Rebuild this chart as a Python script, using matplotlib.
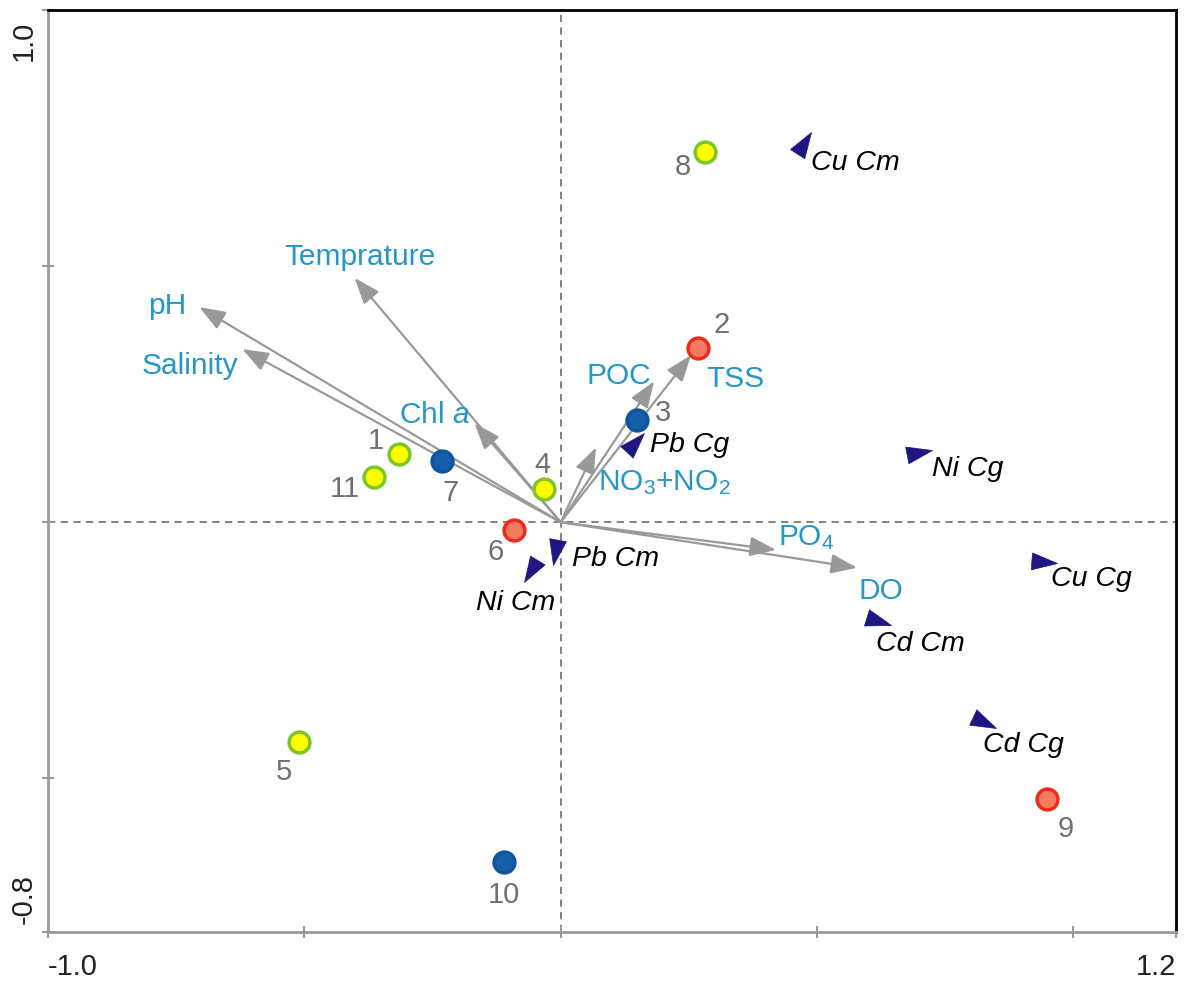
import numpy as np
import matplotlib
matplotlib.use("Agg")
import matplotlib.pyplot as plt
from matplotlib.markers import MarkerStyle
from matplotlib.path import Path
from matplotlib.transforms import Affine2D, ScaledTranslation

plt.rcParams['font.family'] = ['Liberation Sans', 'DejaVu Sans']
plt.rcParams['mathtext.fontset'] = 'custom'
plt.rcParams['mathtext.rm'] = 'Liberation Sans'
plt.rcParams['mathtext.it'] = 'Liberation Sans:italic'

# sampling sites (scores)
site_ids = ['1', '11', '7', '4', '6', '3', '2', '8', '5', '10', '9']
site_x = [-0.315, -0.365, -0.231, -0.032, -0.091, 0.149, 0.268, 0.282, -0.510, -0.110, 0.948]
site_y = [0.134, 0.089, 0.120, 0.065, -0.015, 0.200, 0.341, 0.723, -0.429, -0.663, -0.540]
site_group = ['y', 'y', 'b', 'y', 'r', 'b', 'r', 'y', 'y', 'b', 'r']

# environmental variables (arrow tips)
env_names = ['Temprature', 'pH', 'Salinity', 'Chl $a$', 'POC', 'TSS',
             'NO$_{\\mathrm{3}}$+NO$_{\\mathrm{2}}$', 'PO$_{\\mathrm{4}}$', 'DO']
env_x = [-0.402, -0.705, -0.621, -0.168, 0.182, 0.254, 0.069, 0.420, 0.578]
env_y = [0.477, 0.420, 0.338, 0.193, 0.275, 0.326, 0.146, -0.054, -0.089]

# metal species (arrow heads only)
sp_names = ['Cu Cm', 'Ni Cg', 'Cu Cg', 'Cd Cm', 'Cd Cg', 'Pb Cg', 'Pb Cm', 'Ni Cm']
sp_x = [0.488, 0.724, 0.968, 0.644, 0.849, 0.163, -0.015, -0.071]
sp_y = [0.761, 0.141, -0.079, -0.200, -0.402, 0.175, -0.083, -0.117]

# label offsets (points)
site_off = [(-17, 9), (-21, -9), (6, -23), (-1, 17), (-13, -16), (19, 5),
            (17, 16), (-16, -11), (-11, -22), (0, -24), (14, -22)]
env_off = [(4, 15), (-23, 1), (-38, -12), (-29, 6), (-25, 4), (32, -17),
           (49, -25), (22, 9), (17, -17)]
sp_off = [(0, -22), (0, -14), (-4, -12), (-11, -14), (-9, -12), (4, -9), (14, 4), (-6, -15)]
sp_ha = ['left'] * 7 + ['center']

face = {'y': '#ffff00', 'b': '#1560a8', 'r': '#f47a60'}
edge = {'y': '#7cc528', 'b': '#0f55a0', 'r': '#ee2a1a'}
env_col = '#2596c8'
arrow_col = '#999999'

fig = plt.figure(figsize=(11.84, 9.81), dpi=100)
ax = fig.add_axes([0.0405, 0.050, 0.9527, 0.9398])
ax.set_xlim(-1.0, 1.2)
ax.set_ylim(-0.8, 1.0)

ax.axhline(0, color='#777777', lw=1.3, ls=(0, (4, 3)), zorder=1)
ax.axvline(0, color='#777777', lw=1.3, ls=(0, (4, 3)), zorder=1)

# environmental arrows
for name, x, y, off in zip(env_names, env_x, env_y, env_off):
    ax.annotate('', xy=(x, y), xytext=(0, 0),
                arrowprops=dict(arrowstyle='-|>,head_length=0.8,head_width=0.3',
                                color=arrow_col, lw=1.6, mutation_scale=20,
                                shrinkA=0, shrinkB=0), zorder=2)
    ax.annotate(name, xy=(x, y), xytext=off, textcoords='offset points',
                ha='center', va='center', color=env_col, fontsize=21.5, zorder=5)

# species arrow heads
head = Path([(0, 0), (-1.0, 0.33), (-1.0, -0.33), (0, 0)],
            [Path.MOVETO, Path.LINETO, Path.LINETO, Path.CLOSEPOLY])
for name, x, y, off, ha in zip(sp_names, sp_x, sp_y, sp_off, sp_ha):
    ang = np.degrees(np.arctan2(y, x))
    m = MarkerStyle(head, transform=Affine2D().rotate_deg(ang))
    ax.plot(x, y, marker=m, ms=37, color='#1e1682', mec='#1e1682', mew=0.5,
            ls='none', zorder=4)
    ax.annotate(name, xy=(x, y), xytext=off, textcoords='offset points',
                ha=ha, va='center', style='italic', color='black', fontsize=20.5, zorder=5)

# sites
for sid, x, y, g, off in zip(site_ids, site_x, site_y, site_group, site_off):
    ax.plot(x, y, 'o', ms=15, mfc=face[g], mec=edge[g], mew=2.5, zorder=6)
    ax.annotate(sid, xy=(x, y), xytext=off, textcoords='offset points',
                ha='center', va='center', color='#707070', fontsize=21, zorder=5)

# axes frame
for s in ['left', 'bottom']:
    ax.spines[s].set_color('#9a9a9a')
    ax.spines[s].set_linewidth(2)
for s in ['top', 'right']:
    ax.spines[s].set_color('black')
    ax.spines[s].set_linewidth(2)

ax.set_xticks([-1.0, -0.5, 0, 0.5, 1.0, 1.2])
ax.set_xticklabels(['-1.0', '', '', '', '', '1.2'])
ax.set_yticks([-0.8, -0.5, 0, 0.5, 1.0])
ax.set_yticklabels(['-0.8', '', '', '', '1.0'])
ax.tick_params(direction='inout', length=9, width=1.5, color='#9a9a9a',
               labelsize=21, labelcolor='#222222')
ax.tick_params(axis='x', pad=11)
ax.tick_params(axis='y', pad=3)
for lbl in ax.get_yticklabels():
    lbl.set_rotation(90)
xl = ax.get_xticklabels()
xl[0].set_ha('left')
xl[-1].set_ha('right')
yl = ax.get_yticklabels()
yl[0].set_va('bottom')
yl[-1].set_va('top')
yl[0].set_transform(yl[0].get_transform() + ScaledTranslation(0, 0.08, fig.dpi_scale_trans))
yl[-1].set_transform(yl[-1].get_transform() + ScaledTranslation(0, -0.11, fig.dpi_scale_trans))
for t in [ax.xaxis.get_major_ticks()[0], ax.xaxis.get_major_ticks()[-1],
          ax.yaxis.get_major_ticks()[0]]:
    t.tick1line.set_color('black')

fig.savefig('out.png', dpi=100)
